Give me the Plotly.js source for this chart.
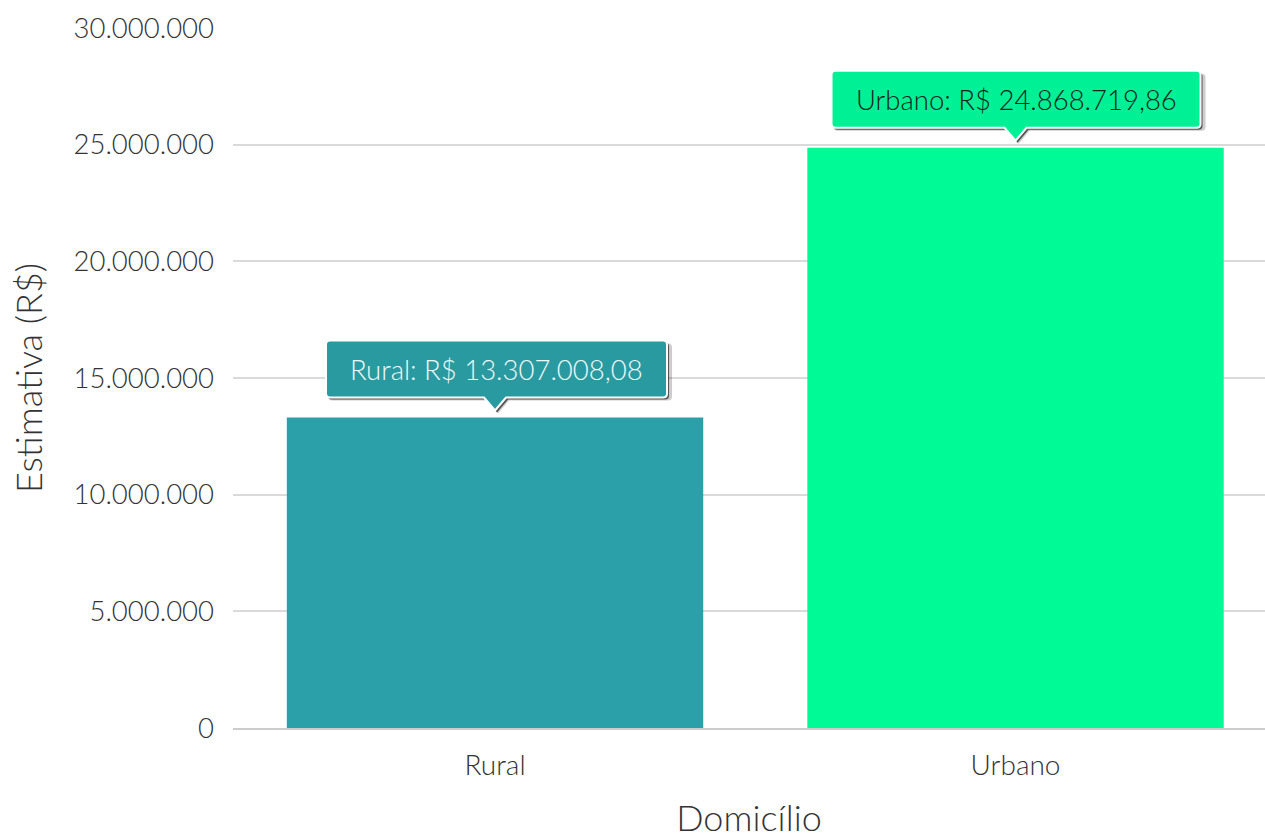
<!DOCTYPE html>
<html>
<head>
<meta charset="utf-8">
<script src="https://cdn.plot.ly/plotly-3.0.1.min.js"></script>
<style>html,body{margin:0;padding:0;background:#fff;overflow:hidden}#chart{width:1265px;height:839px}</style>
</head>
<body>
<div id="chart"></div>
<script>
const categories = ["Rural", "Urbano"];
const values = [13307008.08, 24868719.86];
const barColors = ["#2ca0a8", "#00fa96"];
const tipColors = ["#2a9aa1", "#00f096"];
const tipTextColors = ["#eef8f8", "#10261c"];
const tipHalfWidths = [[169, 172], [184, 185]];
const yTicks = [0, 5000000, 10000000, 15000000, 20000000, 25000000, 30000000];

function fmt(v) {
  try { return new Intl.NumberFormat('pt-BR', {minimumFractionDigits: 2, maximumFractionDigits: 2}).format(v); }
  catch (e) { return v.toFixed(2); }
}

function calloutPath(L, R, dx, dy) {
  const r = 4, tip = 7, base = 20, top = 77;
  const p = (x, y) => (x + dx) + ',' + (y + dy);
  return 'M' + p(0, tip) + ' L' + p(11, base) + ' L' + p(R - r, base) +
    ' Q' + p(R, base) + ' ' + p(R, base + r) + ' L' + p(R, top - r) +
    ' Q' + p(R, top) + ' ' + p(R - r, top) + ' L' + p(-L + r, top) +
    ' Q' + p(-L, top) + ' ' + p(-L, top - r) + ' L' + p(-L, base + r) +
    ' Q' + p(-L, base) + ' ' + p(-L + r, base) + ' L' + p(-11, base) + ' Z';
}

const FONT = 'Lato, "Open Sans", sans-serif';
const shapes = [];
const annotations = [];
categories.forEach((c, i) => {
  const [L, R] = tipHalfWidths[i];
  shapes.push({type: 'path', xref: 'x', yref: 'y', xsizemode: 'pixel', ysizemode: 'pixel',
    xanchor: i, yanchor: values[i], path: calloutPath(L + 1, R + 2, 3, -3),
    fillcolor: 'rgba(0,0,0,0.2)', line: {width: 0}, layer: 'above'});
  shapes.push({type: 'path', xref: 'x', yref: 'y', xsizemode: 'pixel', ysizemode: 'pixel',
    xanchor: i, yanchor: values[i], path: calloutPath(L, R, 2, -2),
    fillcolor: 'rgba(0,0,0,0.6)', line: {width: 0}, layer: 'above'});
  shapes.push({type: 'path', xref: 'x', yref: 'y', xsizemode: 'pixel', ysizemode: 'pixel',
    xanchor: i, yanchor: values[i], path: calloutPath(L, R, 0, 0),
    fillcolor: tipColors[i], line: {color: '#ffffff', width: 2}, layer: 'above'});
  annotations.push({x: i, y: values[i], xref: 'x', yref: 'y', showarrow: false,
    text: c + ': R$ ' + fmt(values[i]), yanchor: 'middle', xanchor: 'center',
    yshift: 48, xshift: (R - L) / 2,
    font: {family: FONT, size: 27.5, color: tipTextColors[i], weight: 300}});
});

const data = [{
  type: 'bar', x: [0, 1], y: values, marker: {color: barColors, line: {width: 0}},
  hoverinfo: 'skip'
}];

const layout = {
  width: 1265, height: 839,
  margin: {l: 233, r: 0, t: 28, b: 111, pad: 0},
  paper_bgcolor: '#ffffff', plot_bgcolor: '#ffffff',
  separators: ',.',
  bargap: 0.2,
  showlegend: false,
  font: {family: FONT, color: '#333333', weight: 300},
  xaxis: {
    range: [-0.5034, 1.4793], tickmode: 'array', tickvals: [0, 1], ticktext: categories,
    showgrid: false, zeroline: false, showline: true, linecolor: 'rgba(0,0,0,0.2)', linewidth: 2,
    ticks: '', tickfont: {family: FONT, size: 28, color: '#333333', weight: 300},
    ticklabelstandoff: 11,
    title: {text: 'Domicílio', font: {family: FONT, size: 36, color: '#333333', weight: 300}, standoff: 44}
  },
  yaxis: {
    range: [0, 30000000], tickmode: 'array', tickvals: yTicks, tickformat: ',d',
    showgrid: true, gridcolor: '#dadada', gridwidth: 2, zeroline: false, showline: false,
    ticks: '', tickfont: {family: FONT, size: 27.5, color: '#333333', weight: 300},
    ticklabelstandoff: 18,
    title: {text: 'Estimativa (R$)', font: {family: FONT, size: 36, color: '#333333', weight: 300}, standoff: 19}
  },
  shapes: shapes,
  annotations: annotations
};

Plotly.newPlot('chart', data, layout, {staticPlot: true, displayModeBar: false});
</script>
</body>
</html>
